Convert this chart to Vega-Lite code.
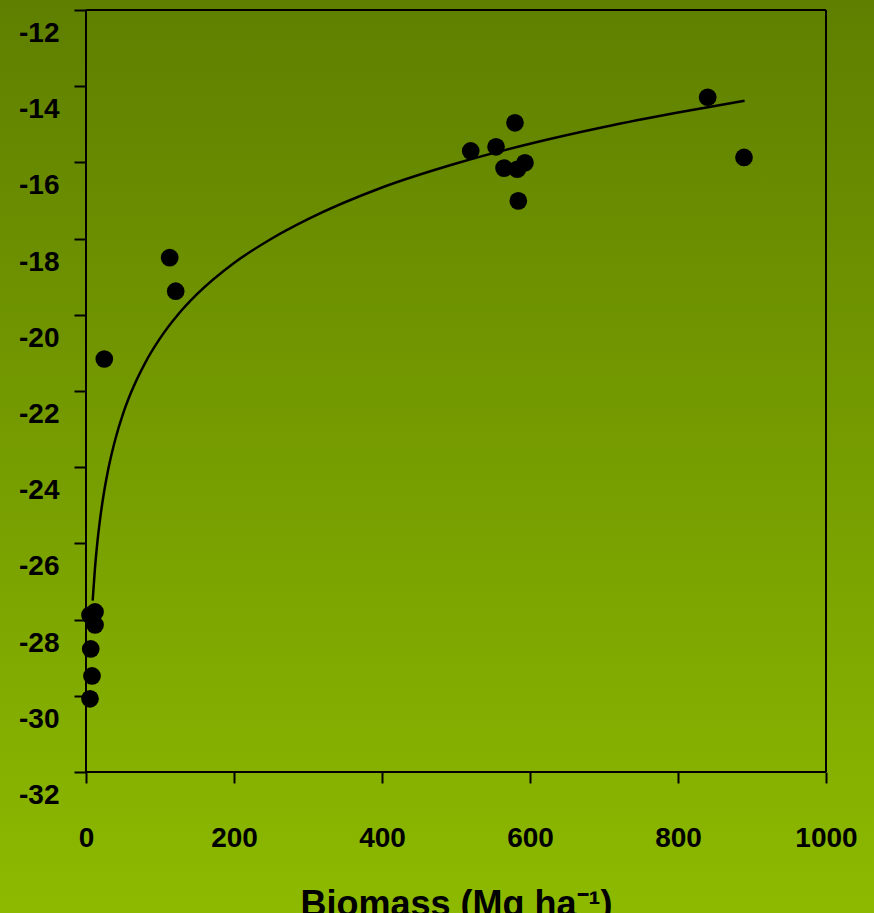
{
  "$schema": "https://vega.github.io/schema/vega-lite/v6.json",
  "width": 874,
  "height": 913,
  "autosize": {"type": "none"},
  "padding": 0,
  "background": "#77a000",
  "config": {
    "view": {
      "stroke": null,
      "fill": {"gradient": "linear", "x1": 0, "y1": 0, "x2": 0, "y2": 1,
        "stops": [{"offset": 0, "color": "#5f7f00"}, {"offset": 1, "color": "#8dba00"}]}
    },
    "font": "Liberation Sans"
  },
  "datasets": {
    "obs": [
      {"x": 5.4, "y": -27.88}, {"x": 12.2, "y": -27.80}, {"x": 12.2, "y": -28.14},
      {"x": 6.4, "y": -28.77}, {"x": 8.1, "y": -29.48}, {"x": 5.4, "y": -30.08},
      {"x": 24.7, "y": -21.16}, {"x": 113.1, "y": -18.50}, {"x": 121.2, "y": -19.38},
      {"x": 519.9, "y": -15.70}, {"x": 554.1, "y": -15.59}, {"x": 579.7, "y": -14.96},
      {"x": 564.9, "y": -16.15}, {"x": 582.8, "y": -16.18}, {"x": 593.2, "y": -16.01},
      {"x": 584.2, "y": -17.01}, {"x": 840.1, "y": -14.29}, {"x": 889.2, "y": -15.87}
    ],
    "fit": [
      {"x": 9, "y": -27.50}, {"x": 12, "y": -26.68}, {"x": 15, "y": -26.04},
      {"x": 20, "y": -25.22}, {"x": 25, "y": -24.58}, {"x": 30, "y": -24.06},
      {"x": 40, "y": -23.24}, {"x": 50, "y": -22.60}, {"x": 60, "y": -22.08},
      {"x": 80, "y": -21.26}, {"x": 100, "y": -20.62}, {"x": 125, "y": -19.98},
      {"x": 150, "y": -19.46}, {"x": 200, "y": -18.64}, {"x": 250, "y": -18.01},
      {"x": 300, "y": -17.49}, {"x": 400, "y": -16.66}, {"x": 500, "y": -16.03},
      {"x": 600, "y": -15.51}, {"x": 700, "y": -15.07}, {"x": 800, "y": -14.69},
      {"x": 890, "y": -14.38}
    ],
    "frame": [
      {"x": 0, "x2": 0, "y": -32, "y2": -12},
      {"x": 1000, "x2": 1000, "y": -32, "y2": -12},
      {"x": 0, "x2": 1000, "y": -12, "y2": -12},
      {"x": 0, "x2": 1000, "y": -32, "y2": -32}
    ]
  },
  "encoding": {
    "x": {
      "field": "x", "type": "quantitative",
      "scale": {"domain": [-116.22, 1064.86], "nice": false, "zero": false},
      "axis": {
        "values": [0, 200, 400, 600, 800, 1000],
        "offset": -141, "domain": false, "grid": false,
        "tickColor": "black", "tickWidth": 2, "tickSize": 11,
        "labelFont": "Liberation Sans", "labelFontSize": 28, "labelFontWeight": "bold",
        "labelColor": "black", "labelPadding": 41, "labelOverlap": false, "labelFlush": false,
        "labelExpr": "toString(datum.value)",
        "title": "Biomass (Mg ha⁻¹)", "titleFont": "Liberation Sans", "titleFontSize": 36,
        "titleFontWeight": "bold", "titleColor": "black", "titlePadding": 35, "titleX": 456
      }
    },
    "y": {
      "field": "y", "type": "quantitative",
      "scale": {"domain": [-35.701, -11.7375], "nice": false, "zero": false},
      "axis": {
        "values": [-32, -30, -28, -26, -24, -22, -20, -18, -16, -14, -12],
        "offset": -86, "domain": false, "grid": false,
        "tickColor": "black", "tickWidth": 2, "tickSize": 12,
        "labelFont": "Liberation Sans", "labelFontSize": 28, "labelFontWeight": "bold",
        "labelColor": "black", "labelPadding": 15, "labelOffset": 23.5,
        "labelOverlap": false, "labelFlush": false,
        "labelExpr": "toString(datum.value)",
        "title": null
      }
    }
  },
  "layer": [
    {
      "data": {"name": "frame"},
      "mark": {"type": "rule", "color": "black", "strokeWidth": 2},
      "encoding": {"x2": {"field": "x2"}, "y2": {"field": "y2"}}
    },
    {
      "data": {"name": "fit"},
      "mark": {"type": "line", "color": "black", "strokeWidth": 2.5, "interpolate": "monotone"}
    },
    {
      "data": {"name": "obs"},
      "mark": {"type": "circle", "color": "black", "opacity": 1, "size": 314}
    }
  ]
}
